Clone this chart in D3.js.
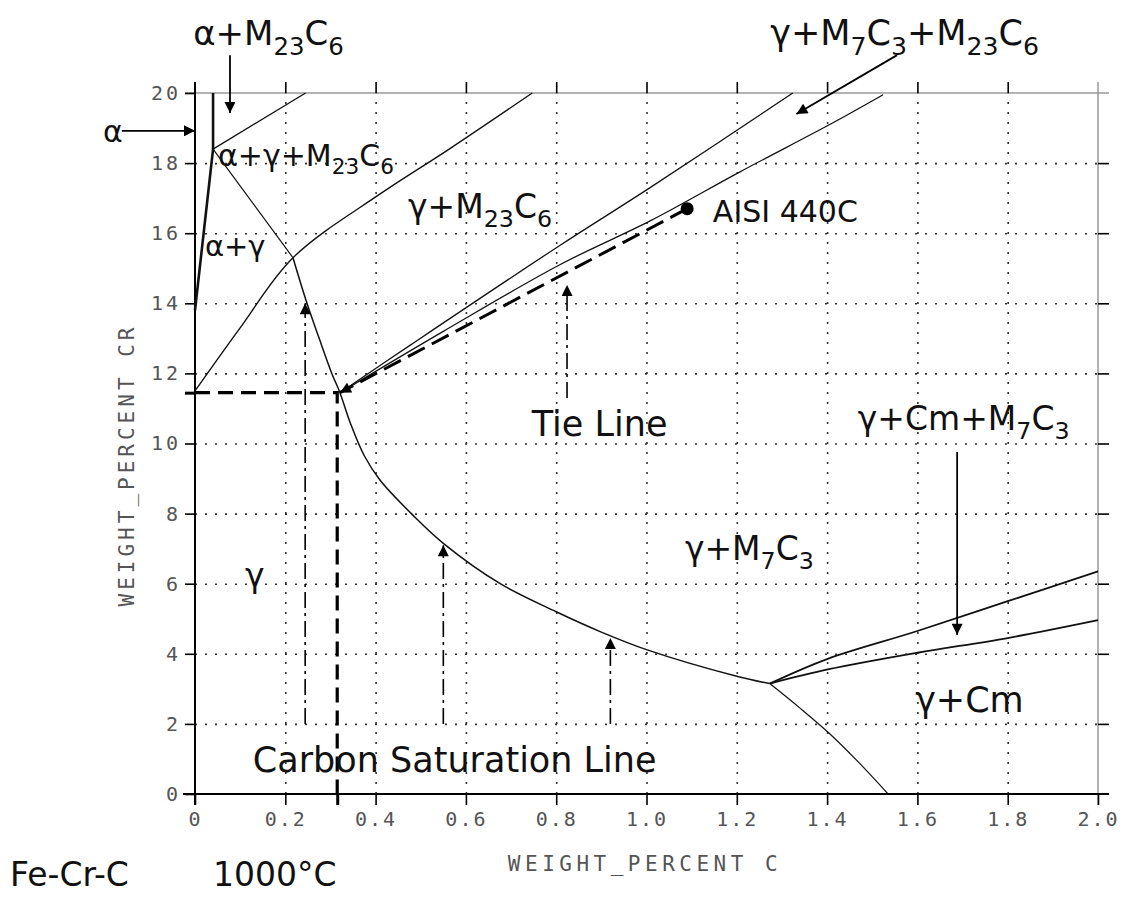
<!DOCTYPE html>
<html>
<head>
<meta charset="utf-8">
<script src="https://cdn.jsdelivr.net/npm/d3@7"></script>
<style>
  body { margin: 0; background: #fff; }
  svg { display: block; }
  .lbl { font-family: 'DejaVu Sans', sans-serif; fill: #111; }
  .tick-lbl { font-family: 'DejaVu Sans Mono', monospace; fill: #555; }
</style>
</head>
<body>
<svg width="1130" height="899"></svg>
<script>
// Fe-Cr-C isotherm, 1000 C  (x = wt% C, y = wt% Cr)
const xTicks = [0, 0.2, 0.4, 0.6, 0.8, 1.0, 1.2, 1.4, 1.6, 1.8, 2.0];
const xTickLabels = ['0', '0.2', '0.4', '0.6', '0.8', '1.0', '1.2', '1.4', '1.6', '1.8', '2.0'];
const yTicks = [0, 2, 4, 6, 8, 10, 12, 14, 16, 18, 20];
const yTickLabels = ['0', '2', '4', '6', '8', '10', '12', '14', '16', '18', '20'];
const extraXTicks = [0.315];
const extraYTicks = [11.45];

// phase boundaries
const alphaLine = [[0, 13.8], [0.04, 18.4], [0.04, 20]];
const alphaM23Line = [[0.04, 18.4], [0.245, 20]];
const alphaGammaM23Line = [[0.04, 18.4], [0.217, 15.3]];
const gammaM23Line = [[0, 11.5], [0.1, 13.3], [0.217, 15.3], [0.41, 17.12], [0.563, 18.4], [0.747, 20]];
const saturationLine = [[0.217, 15.3], [0.248, 14.0], [0.275, 13.0], [0.303, 12.0], [0.321, 11.45], [0.345, 10.55],
  [0.375, 9.65], [0.41, 8.95], [0.483, 7.95], [0.55, 7.15], [0.676, 6.0], [0.8, 5.2], [0.9, 4.62], [1.0, 4.12],
  [1.2, 3.36], [1.273, 3.15]];
const m7UpperLine = [[0.321, 11.45], [0.476, 12.8], [0.808, 15.65], [1.008, 17.3], [1.324, 20]];
const m7LowerLine = [[0.321, 11.45], [0.55, 13.2], [0.808, 15.1], [1.008, 16.35], [1.207, 17.75], [1.413, 19.15], [1.524, 19.95]];
const cmUpperLine = [[1.273, 3.15], [1.4, 3.85], [1.6, 4.65], [1.8, 5.5], [2.0, 6.35]];
const cmLowerLine = [[1.273, 3.15], [1.404, 3.56], [1.6, 4.03], [1.8, 4.45], [2.0, 4.96]];
const cmBottomLine = [[1.273, 3.15], [1.34, 2.45], [1.404, 1.74], [1.47, 0.9], [1.535, 0]];

// constructions
const tieLine = [[0.321, 11.45], [1.09, 16.7]];
const aisi440C = [1.09, 16.7];
const saturationPoint = [0.315, 11.45];
const saturationArrowsX = [0.244, 0.55, 0.92];
const saturationArrowsTip = [14.0, 7.1, 4.45];
const tieArrow = [[0.824, 11.3], [0.824, 14.52]];

// label arrows [from, to]
const pointerArrows = [
  [[-0.162, 18.92], [0.0, 18.92]],     // alpha
  [[0.0775, 21.08], [0.0775, 19.43]],  // alpha+M23C6
  [[1.555, 21.08], [1.332, 19.4]],     // gamma+M7C3+M23C6
  [[1.688, 9.76], [1.688, 4.54]]       // gamma+Cm+M7C3
];

// region labels: [C, Cr, font size, text parts]  ('_' part = subscript)
const regionLabels = [
  [-0.004, 21.37, 34, ['α+M', '_23', 'C', '_6']],
  [1.274, 21.37, 35, ['γ+M', '_7', 'C', '_3', '+M', '_23', 'C', '_6']],
  [0.051, 17.92, 30, ['α+γ+M', '_23', 'C', '_6']],
  [0.472, 16.43, 33, ['γ+M', '_23', 'C', '_6']],
  [1.147, 16.32, 30, ['AISI 440C']],
  [0.022, 15.35, 29, ['α+γ']],
  [0.746, 10.21, 35, ['Tie Line']],
  [1.468, 10.38, 33, ['γ+Cm+M', '_7', 'C', '_3']],
  [1.085, 6.68, 33, ['γ+M', '_7', 'C', '_3']],
  [0.111, 5.9, 33, ['γ']],
  [1.595, 2.34, 35, ['γ+Cm']],
  [0.128, 0.63, 35, ['Carbon Saturation Line']],
  [-0.204, 18.6, 30, ['α']]
];

var svg = d3.select('svg');

var x = d3.scaleLinear().domain([0, 2]).range([195, 1098]);
var y = d3.scaleLinear().domain([0, 20]).range([794, 93]);

var defs = svg.append('defs');
defs
  .append('marker')
  .attr('id', 'arrow')
  .attr('viewBox', '0 0 10 10')
  .attr('refX', 10)
  .attr('refY', 5)
  .attr('markerWidth', 14)
  .attr('markerHeight', 11)
  .attr('markerUnits', 'userSpaceOnUse')
  .attr('orient', 'auto')
  .append('path')
  .attr('d', 'M0,0 L10,5 L0,10 Z')
  .attr('fill', '#000');

// 網格 (dotted grid)
svg
  .append('g')
  .attr('transform', `translate(0,${y(0)})`)
  .call(d3.axisBottom(x).tickValues(xTicks.slice(1, -1)).tickSize(-(y(0) - y(20))).tickFormat(''))
  .call((g) => g.select('.domain').remove())
  .selectAll('line')
  .attr('stroke', '#333')
  .attr('stroke-width', 1.6)
  .attr('stroke-dasharray', '2,8');

svg
  .append('g')
  .attr('transform', `translate(${x(0)},0)`)
  .call(d3.axisLeft(y).tickValues(yTicks.slice(1, -1)).tickSize(-(x(2) - x(0))).tickFormat(''))
  .call((g) => g.select('.domain').remove())
  .selectAll('line')
  .attr('stroke', '#333')
  .attr('stroke-width', 1.6)
  .attr('stroke-dasharray', '2,8');

// 外框
svg.append('line').attr('x1', 185).attr('x2', 1109).attr('y1', y(20)).attr('y2', y(20)).attr('stroke', '#999').attr('stroke-width', 1.5);
svg.append('line').attr('x1', x(2)).attr('x2', x(2)).attr('y1', 82).attr('y2', 805).attr('stroke', '#999').attr('stroke-width', 1.5);
svg.append('line').attr('x1', x(0)).attr('x2', x(0)).attr('y1', 82).attr('y2', 805).attr('stroke', '#000').attr('stroke-width', 2);
svg.append('line').attr('x1', 183).attr('x2', 1109).attr('y1', y(0)).attr('y2', y(0)).attr('stroke', '#000').attr('stroke-width', 2);

// 刻度 (ticks and labels)
var xAxis = svg
  .append('g')
  .attr('transform', `translate(0,${y(0)})`)
  .call(d3.axisBottom(x).tickValues(xTicks.concat(extraXTicks)).tickSize(11).tickSizeOuter(0)
    .tickFormat((d) => (xTicks.indexOf(d) >= 0 ? xTickLabels[xTicks.indexOf(d)] : '')));
xAxis.select('.domain').remove();
xAxis.selectAll('line').attr('stroke', '#000').attr('stroke-width', (d) => (extraXTicks.indexOf(d) >= 0 ? 3 : 1.6));
xAxis.selectAll('text')
  .attr('class', 'tick-lbl')
  .attr('font-size', 20)
  .attr('letter-spacing', 2)
  .attr('y', 18)
  .attr('dy', '0.71em');

var yAxis = svg
  .append('g')
  .attr('transform', `translate(${x(0)},0)`)
  .call(d3.axisLeft(y).tickValues(yTicks.concat(extraYTicks)).tickSize(10).tickSizeOuter(0)
    .tickFormat((d) => (yTicks.indexOf(d) >= 0 ? yTickLabels[yTicks.indexOf(d)] : '')));
yAxis.select('.domain').remove();
yAxis.selectAll('line').attr('stroke', '#000').attr('stroke-width', (d) => (extraYTicks.indexOf(d) >= 0 ? 3 : 1.6));
yAxis.selectAll('text')
  .attr('class', 'tick-lbl')
  .attr('font-size', 20)
  .attr('letter-spacing', 3)
  .attr('x', -14);

var topAxis = svg
  .append('g')
  .attr('transform', `translate(0,${y(20)})`)
  .call(d3.axisTop(x).tickValues(xTicks.slice(1, -1)).tickSize(11).tickSizeOuter(0).tickFormat(''));
topAxis.select('.domain').remove();
topAxis.selectAll('line').attr('stroke', '#000').attr('stroke-width', 1.6);

var rightAxis = svg
  .append('g')
  .attr('transform', `translate(${x(2)},0)`)
  .call(d3.axisRight(y).tickValues(yTicks.slice(1, -1)).tickSize(11).tickSizeOuter(0).tickFormat(''));
rightAxis.select('.domain').remove();
rightAxis.selectAll('line').attr('stroke', '#000').attr('stroke-width', 1.6);

// 軸標題
svg
  .append('text')
  .attr('class', 'tick-lbl')
  .attr('x', 645)
  .attr('y', 871)
  .attr('text-anchor', 'middle')
  .attr('font-size', 21)
  .attr('letter-spacing', 4.5)
  .text('WEIGHT_PERCENT C');

svg
  .append('text')
  .attr('class', 'tick-lbl')
  .attr('transform', 'translate(134,465) rotate(-90)')
  .attr('text-anchor', 'middle')
  .attr('font-size', 21)
  .attr('letter-spacing', 4)
  .text('WEIGHT_PERCENT CR');

// 相界線
var line = d3.line().x((d) => x(d[0])).y((d) => y(d[1]));
var smooth = d3.line().x((d) => x(d[0])).y((d) => y(d[1])).curve(d3.curveCatmullRom.alpha(0.5));

function boundary(data, gen, width) {
  svg
    .append('path')
    .datum(data)
    .attr('d', gen)
    .attr('fill', 'none')
    .attr('stroke', '#111')
    .attr('stroke-width', width);
}

boundary(alphaLine, line, 2.6);
boundary(alphaM23Line, line, 1.3);
boundary(alphaGammaM23Line, line, 1.2);
boundary(gammaM23Line, smooth, 1.4);
boundary(saturationLine, smooth, 1.5);
boundary(m7UpperLine, smooth, 1.3);
boundary(m7LowerLine, smooth, 1.3);
boundary(cmUpperLine, smooth, 1.8);
boundary(cmLowerLine, smooth, 1.8);
boundary(cmBottomLine, smooth, 1.2);

// 虛線 (carbon saturation construction)
svg
  .append('path')
  .datum([[0, saturationPoint[1]], saturationPoint, [saturationPoint[0], 0]])
  .attr('d', line)
  .attr('fill', 'none')
  .attr('stroke', '#000')
  .attr('stroke-width', 3.2)
  .attr('stroke-dasharray', '15,8');

// tie line with arrow into saturation point
svg
  .append('path')
  .datum(tieLine.slice().reverse())
  .attr('d', line)
  .attr('fill', 'none')
  .attr('stroke', '#000')
  .attr('stroke-width', 3)
  .attr('stroke-dasharray', '19,8')
  .attr('marker-end', 'url(#arrow)');

svg
  .append('circle')
  .attr('cx', x(aisi440C[0]))
  .attr('cy', y(aisi440C[1]))
  .attr('r', 6.5)
  .attr('fill', '#000');

// dash-dot arrows
saturationArrowsX.forEach((c, i) => {
  svg
    .append('line')
    .attr('x1', x(c))
    .attr('x2', x(c))
    .attr('y1', y(2))
    .attr('y2', y(saturationArrowsTip[i]))
    .attr('stroke', '#000')
    .attr('stroke-width', 1.6)
    .attr('stroke-dasharray', '16,5,3,5')
    .attr('marker-end', 'url(#arrow)');
});

svg
  .append('path')
  .datum(tieArrow)
  .attr('d', line)
  .attr('stroke', '#000')
  .attr('stroke-width', 1.6)
  .attr('stroke-dasharray', '16,5,3,5')
  .attr('marker-end', 'url(#arrow)');

// solid pointer arrows
pointerArrows.forEach((a) => {
  svg
    .append('path')
    .datum(a)
    .attr('d', line)
    .attr('stroke', '#000')
    .attr('stroke-width', 1.8)
    .attr('marker-end', 'url(#arrow)');
});

// 區域標籤
regionLabels.forEach((l) => {
  var t = svg
    .append('text')
    .attr('class', 'lbl')
    .attr('x', x(l[0]))
    .attr('y', y(l[1]))
    .attr('font-size', l[2]);
  var shifted = false;
  l[3].forEach((p) => {
    var sub = p[0] === '_';
    var ts = t.append('tspan').text(sub ? p.slice(1) : p);
    if (sub) {
      ts.attr('font-size', l[2] * 0.72).attr('dy', shifted ? 0 : l[2] * 0.28);
      shifted = true;
    } else if (shifted) {
      ts.attr('dy', -l[2] * 0.28);
      shifted = false;
    }
  });
});

svg.append('text').attr('class', 'lbl').attr('x', 10).attr('y', 886).attr('font-size', 33).text('Fe-Cr-C');
svg.append('text').attr('class', 'lbl').attr('x', 213).attr('y', 886).attr('font-size', 33).text('1000°C');
</script>
</body>
</html>
